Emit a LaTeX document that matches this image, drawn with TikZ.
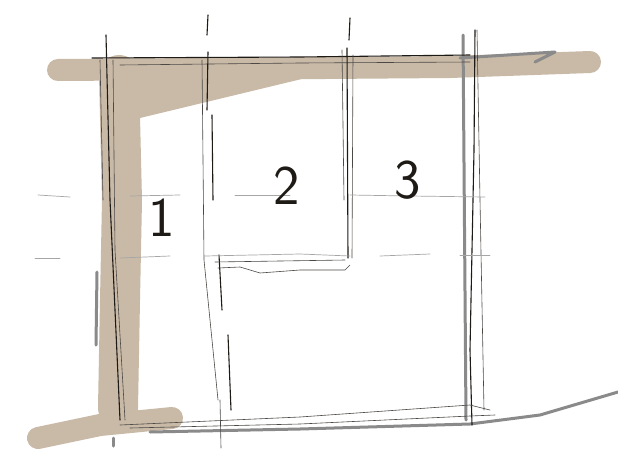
\documentclass[tikz,border=0pt]{standalone}
\usepackage{fontspec}
\setmainfont{DejaVu Sans}
\definecolor{beige}{HTML}{C9BAA7}
\definecolor{ink}{HTML}{1E1A16}
\definecolor{pencil}{HTML}{8A8A8A}
\begin{document}
\begin{tikzpicture}[x=1pt,y=-1pt,
  marker/.style={beige,line width=22pt,line cap=round,line join=round},
  inkline/.style={ink,line width=1.1pt,line cap=round},
  thinline/.style={ink!80,line width=0.6pt,line cap=round},
  grayline/.style={pencil,line width=3pt,line cap=round,line join=round},
  faint/.style={gray!70,line width=0.7pt,line cap=round},
  num/.style={font=\fontsize{56}{56}\selectfont\sffamily,ink,inner sep=0pt}]
\useasboundingbox (0,0) rectangle (618,450);
\fill[white] (0,0) rectangle (618,450);
% beige marker strokes
\draw[marker] (58,70) -- (200,69) -- (450,67) -- (590,62);
\draw[marker,line width=40pt] (119,75) -- (122,200) -- (120,300) -- (118,408);
\fill[beige] (100,70) -- (310,77) -- (140,118) -- cycle;
\draw[marker,line width=22pt] (38,438) -- (100,425) -- (172,418);
% gray pencil strokes
\draw[grayline] (97,272) -- (96,345);
\draw[grayline] (113,438) -- (113,446);
\draw[grayline] (460,58) -- (555,52) -- (535,62);
\draw[grayline] (463,35) -- (466,420);
\draw[grayline] (150,432) -- (300,429) -- (470,424) -- (540,415) -- (618,392);
% top horizontal line
\draw[inkline] (92,58) -- (300,57) -- (470,55);
\draw[thinline] (120,65) -- (300,63) -- (470,62);
% left vertical lines
\draw[inkline] (106,35) -- (110,200) -- (120,420);
\draw[thinline] (113,60) -- (115,250) -- (125,420);
\draw[thinline] (100,60) -- (103,200);
% column x~205
\draw[inkline] (208,15) -- (207,35);
\draw[inkline] (208,52) -- (207,110);
\draw[thinline] (202,60) -- (204,260) -- (218,400);
\draw[inkline] (212,115) -- (213,200);
\draw[inkline] (219,255) -- (222,310);
\draw[inkline] (228,335) -- (231,410);
\draw[thinline] (220,400) -- (221,448);
% column x~350
\draw[inkline] (350,18) -- (349,40);
\draw[inkline] (347,48) -- (348,258);
\draw[thinline] (353,55) -- (352,258);
\draw[thinline] (342,50) -- (344,200);
% right vertical lines
\draw[inkline] (475,30) -- (474,150) -- (470,350) -- (472,425);
\draw[thinline] (477,30) -- (480,200) -- (484,410);
% dashed horizontal grid lines
\draw[faint] (38,195) -- (70,197);
\draw[faint] (130,196) -- (180,195);
\draw[faint] (235,195) -- (290,195);
\draw[faint] (350,195) -- (410,196) -- (485,197);
\draw[faint] (35,258) -- (60,258);
\draw[faint] (120,258) -- (170,256);
\draw[faint] (205,256) -- (300,254) -- (350,256);
\draw[faint] (380,256) -- (430,254);
\draw[faint] (460,255) -- (490,255);
% step in lower middle
\draw[thinline] (218,268) -- (240,267) -- (260,273) -- (300,270) -- (345,270) -- (350,265);
\draw[thinline] (215,262) -- (345,260);
% bottom horizontal lines
\draw[thinline] (120,425) -- (300,417) -- (470,405) -- (490,410);
\draw[thinline] (130,428) -- (300,424) -- (470,416) -- (495,415);
% numbers
\node[num] (n1) at (162,218) {1};
\node[num] (n2) at (287,186) {2};
\node[num] (n3) at (408,180) {3};
\end{tikzpicture}
\end{document}
